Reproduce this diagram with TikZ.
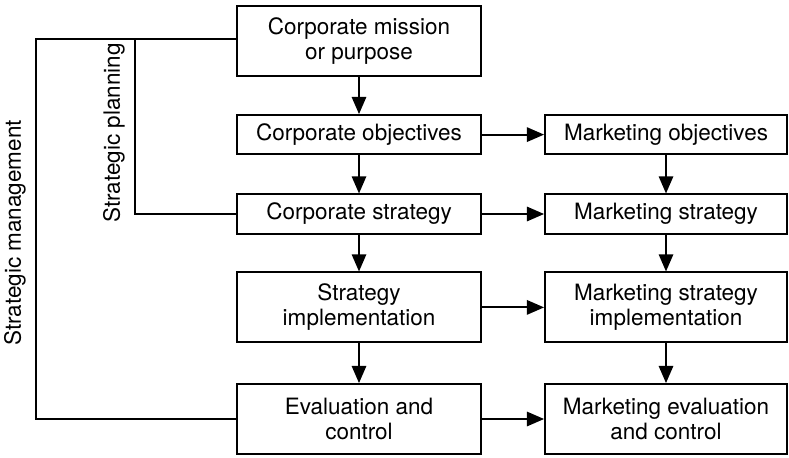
\documentclass[tikz,border=0pt]{standalone}
\usepackage{fontspec}
\setmainfont{TeX Gyre Heros}
\usepackage{tikz}
\usetikzlibrary{positioning,calc,arrows.meta}

\begin{document}
\begin{tikzpicture}[
        box/.style={draw, line width=1.3pt, align=center, inner sep=0pt,
            font=\fontsize{16}{17.8}\selectfont},
        arr/.style={line width=1.3pt, -{Triangle[length=0.43cm,width=0.36cm]}},
        brace/.style={line width=1.3pt}
    ]
        \useasboundingbox (0,0) rectangle (19.725,11.425);

        % Corporate column
        \node[box, minimum width=6.1cm, minimum height=1.75cm] (mission) at (8.975,10.4) {Corporate mission\\or purpose};
        \node[box, minimum width=6.1cm, minimum height=0.98cm] (cobj) at (8.975,8.06) {Corporate objectives};
        \node[box, minimum width=6.1cm, minimum height=0.98cm] (cstrat) at (8.975,6.075) {Corporate strategy};
        \node[box, minimum width=6.1cm, minimum height=1.75cm] (cimpl) at (8.975,3.74) {Strategy\\implementation};
        \node[box, minimum width=6.1cm, minimum height=1.75cm] (ceval) at (8.975,0.95) {Evaluation and\\control};

        % Marketing column
        \node[box, minimum width=6.05cm, minimum height=0.98cm] (mobj) at (16.65,8.06) {Marketing objectives};
        \node[box, minimum width=6.05cm, minimum height=0.98cm] (mstrat) at (16.65,6.075) {Marketing strategy};
        \node[box, minimum width=6.05cm, minimum height=1.75cm] (mimpl) at (16.65,3.74) {Marketing strategy\\implementation};
        \node[box, minimum width=6.05cm, minimum height=1.75cm] (meval) at (16.65,0.95) {Marketing evaluation\\and control};

        % Arrows down
        \draw[arr] (mission) -- (cobj);
        \draw[arr] (cobj) -- (cstrat);
        \draw[arr] (cstrat) -- (cimpl);
        \draw[arr] (cimpl) -- (ceval);
        \draw[arr] (mobj) -- (mstrat);
        \draw[arr] (mstrat) -- (mimpl);
        \draw[arr] (mimpl) -- (meval);

        % Arrows across
        \draw[arr] (cobj) -- (mobj);
        \draw[arr] (cstrat) -- (mstrat);
        \draw[arr] (cimpl) -- (mimpl);
        \draw[arr] (ceval) -- (meval);

        % Brackets
        \coordinate (mtop) at (0.9,10.45);
        \coordinate (ptop) at (3.375,10.45);
        \draw[brace] (mission.west |- mtop) -- (mtop) |- (ceval.west);
        \draw[brace] (ptop) |- (cstrat.west);
        \node[rotate=90, font=\fontsize{16}{17.8}\selectfont] (mgmt) at (0.375,5.6) {Strategic management};
        \node[rotate=90, font=\fontsize{16}{17.8}\selectfont] (plan) at (2.85,8.1) {Strategic planning};
    \end{tikzpicture}
\end{document}
